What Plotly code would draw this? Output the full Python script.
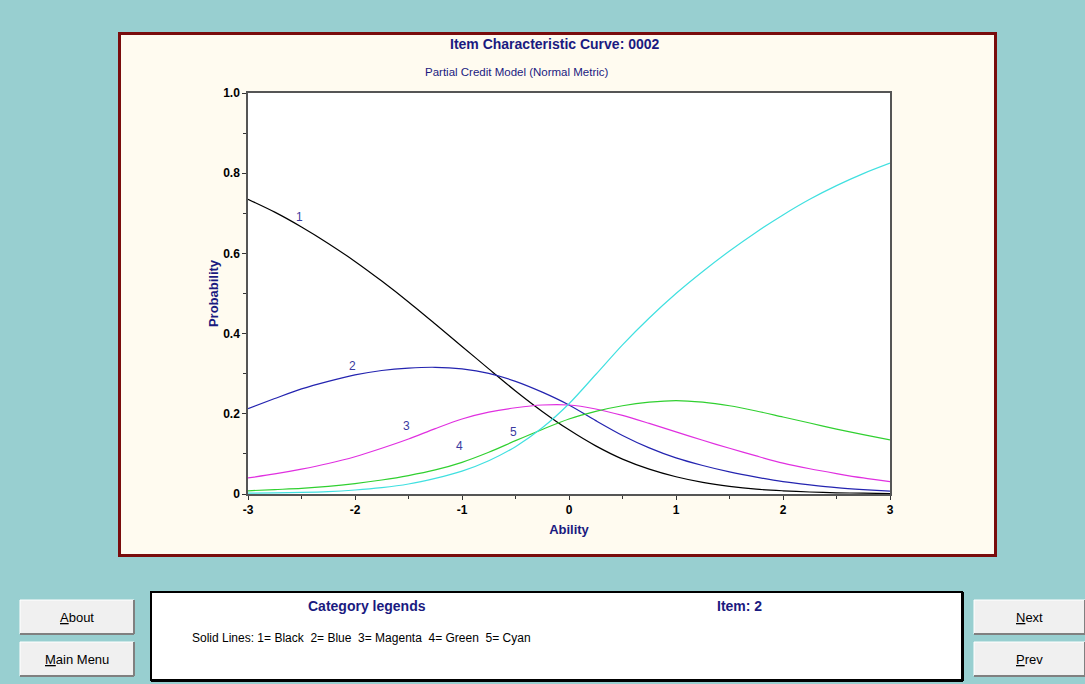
import plotly.graph_objects as go

# ---- data ----
ability = [-3, -2.75, -2.5, -2.25, -2, -1.75, -1.5, -1.25, -1, -0.75, -0.5, -0.25, 0,
           0.25, 0.5, 0.75, 1, 1.25, 1.5, 1.75, 2, 2.25, 2.5, 2.75, 3]
cat1 = [0.735, 0.703, 0.666, 0.625, 0.580, 0.531, 0.479, 0.424, 0.368, 0.312, 0.257, 0.206, 0.160,
        0.120, 0.087, 0.062, 0.043, 0.029, 0.019, 0.012, 0.008, 0.005, 0.003, 0.002, 0.001]
cat2 = [0.213, 0.238, 0.262, 0.281, 0.297, 0.308, 0.314, 0.316, 0.312, 0.301, 0.281, 0.254, 0.222,
        0.183, 0.146, 0.115, 0.090, 0.071, 0.055, 0.042, 0.031, 0.023, 0.016, 0.011, 0.007]
cat3 = [0.040, 0.050, 0.062, 0.076, 0.093, 0.114, 0.137, 0.163, 0.187, 0.204, 0.215, 0.222, 0.222,
        0.212, 0.196, 0.176, 0.155, 0.134, 0.114, 0.095, 0.077, 0.063, 0.051, 0.040, 0.031]
cat4 = [0.008, 0.011, 0.014, 0.019, 0.026, 0.035, 0.046, 0.060, 0.079, 0.104, 0.133, 0.161, 0.187,
        0.206, 0.220, 0.229, 0.233, 0.229, 0.220, 0.207, 0.192, 0.177, 0.162, 0.148, 0.135]
cat5 = [0.002, 0.003, 0.004, 0.006, 0.010, 0.016, 0.025, 0.039, 0.057, 0.083, 0.118, 0.165, 0.225,
        0.298, 0.372, 0.439, 0.500, 0.555, 0.606, 0.653, 0.696, 0.735, 0.769, 0.799, 0.825]
series = [cat1, cat2, cat3, cat4, cat5]
series_colors = ["#000000", "#2424b0", "#e030e0", "#30d030", "#40e0e0"]
curve_labels = ["1", "2", "3", "4", "5"]
label_x = [-2.52, -2.02, -1.52, -1.02, -0.52]
label_y = [0.69, 0.32, 0.17, 0.12, 0.155]
x_ticks = [-3, -2, -1, 0, 1, 2, 3]
y_ticks = [0, 0.2, 0.4, 0.6, 0.8, 1.0]
y_tick_text = ["0", "0.2", "0.4", "0.6", "0.8", "1.0"]

W, H = 1085, 684
L, R, T, B = 248, 890, 93, 494
NAVY = "#1a1a80"
FONT = "Liberation Sans Narrow, Arial Narrow, Liberation Sans, Arial"

def px(x):
    return (x - L) / (R - L)

def py(y):
    return (B - y) / (B - T)

fig = go.Figure()
for vals, col in zip(series, series_colors):
    fig.add_trace(go.Scatter(x=ability, y=vals, mode="lines",
                             line=dict(color=col, width=1.2, shape="spline", smoothing=0.8),
                             showlegend=False, hoverinfo="skip"))

shapes = []
# chart panel
shapes.append(dict(type="rect", xref="paper", yref="paper", x0=px(119.5), x1=px(995.5), y0=py(555.5), y1=py(33.5),
                   fillcolor="#fffbf0", line=dict(color="#7a0c0c", width=3), layer="below"))
# white plot area
shapes.append(dict(type="rect", xref="paper", yref="paper", x0=0, x1=1, y0=0, y1=1,
                   fillcolor="#ffffff", line=dict(width=0), layer="below"))
# legend box
shapes.append(dict(type="rect", xref="paper", yref="paper", x0=px(151), x1=px(962), y0=py(680), y1=py(592),
                   fillcolor="#ffffff", line=dict(color="#000000", width=2), layer="below"))
shapes.append(dict(type="line", xref="paper", yref="paper", x0=px(151), x1=px(963), y0=py(681), y1=py(681),
                   line=dict(color="#000000", width=2)))
shapes.append(dict(type="line", xref="paper", yref="paper", x0=px(963), x1=px(963), y0=py(592), y1=py(681),
                   line=dict(color="#000000", width=2)))

buttons = [("<u>A</u>bout", 20, 134, 600, 634), ("<u>M</u>ain Menu", 20, 134, 642, 676),
           ("<u>N</u>ext", 974, 1085, 600, 634), ("<u>P</u>rev", 974, 1085, 642, 676)]
annotations = []
for text, x0, x1, y0, y1 in buttons:
    shapes.append(dict(type="rect", xref="paper", yref="paper", x0=px(x0), x1=px(x1), y0=py(y1), y1=py(y0),
                       fillcolor="#f0f0f0", line=dict(color="#ffffff", width=1)))
    shapes.append(dict(type="line", xref="paper", yref="paper", x0=px(x0), x1=px(x1), y0=py(y1), y1=py(y1),
                       line=dict(color="#808080", width=2)))
    shapes.append(dict(type="line", xref="paper", yref="paper", x0=px(x1), x1=px(x1), y0=py(y0), y1=py(y1),
                       line=dict(color="#808080", width=2)))
    annotations.append(dict(text=text, xref="paper", yref="paper", x=px((x0 + x1) / 2), y=py((y0 + y1) / 2),
                            showarrow=False, font=dict(family=FONT, size=13, color="#000000"),
                            xanchor="center", yanchor="middle"))

annotations += [
    dict(text="<b>Item Characteristic Curve: 0002</b>", xref="paper", yref="paper", x=px(555), y=py(44),
         showarrow=False, font=dict(family=FONT, size=14, color=NAVY), xanchor="center", yanchor="middle"),
    dict(text="Partial Credit Model (Normal Metric)", xref="paper", yref="paper", x=px(517), y=py(72),
         showarrow=False, font=dict(family=FONT, size=11.5, color=NAVY), xanchor="center", yanchor="middle"),
    dict(text="<b>Category legends</b>", xref="paper", yref="paper", x=px(367), y=py(606),
         showarrow=False, font=dict(family=FONT, size=14, color=NAVY), xanchor="center", yanchor="middle"),
    dict(text="<b>Item: 2</b>", xref="paper", yref="paper", x=px(739), y=py(606),
         showarrow=False, font=dict(family=FONT, size=14, color=NAVY), xanchor="center", yanchor="middle"),
    dict(text="Solid Lines: 1= Black  2= Blue  3= Magenta  4= Green  5= Cyan", xref="paper", yref="paper",
         x=px(190), y=py(638), showarrow=False, font=dict(family=FONT, size=12, color="#000000"),
         xanchor="left", yanchor="middle"),
]
for t, lx, ly in zip(curve_labels, label_x, label_y):
    annotations.append(dict(text=t, x=lx, y=ly, xref="x", yref="y", showarrow=False,
                            font=dict(family=FONT, size=12, color="#3a3aa0"), xanchor="center", yanchor="middle"))

fig.update_layout(
    width=W, height=H,
    margin=dict(l=L, r=W - R, t=T, b=H - B, pad=0),
    paper_bgcolor="#98cfd0", plot_bgcolor="#ffffff",
    shapes=shapes, annotations=annotations,
    showlegend=False,
    font=dict(family=FONT, color="#000000"),
)
fig.update_xaxes(range=[-3, 3], tickvals=x_ticks, ticktext=[str(v) for v in x_ticks],
                 ticks="outside", ticklen=4, tickcolor="#333", showgrid=False, zeroline=False,
                 showline=True, linecolor="#555555", linewidth=1.5, mirror=True,
                 tickfont=dict(family=FONT, size=12, color="#000000", weight="bold"),
                 minor=dict(tickvals=[-2.5, -1.5, -0.5, 0.5, 1.5, 2.5], ticks="outside", ticklen=3, tickcolor="#333"),
                 title=dict(text="<b>Ability</b>", font=dict(family=FONT, size=13, color=NAVY), standoff=9))
fig.update_yaxes(range=[0, 1.0], tickvals=y_ticks, ticktext=y_tick_text,
                 ticks="outside", ticklen=4, tickcolor="#333", showgrid=False, zeroline=False,
                 showline=True, linecolor="#555555", linewidth=1.5, mirror=True,
                 tickfont=dict(family=FONT, size=12, color="#000000", weight="bold"),
                 minor=dict(tickvals=[0.1, 0.3, 0.5, 0.7, 0.9], ticks="outside", ticklen=3, tickcolor="#333"),
                 title=dict(text="<b>Probability</b>", font=dict(family=FONT, size=13, color=NAVY), standoff=2))

fig.write_html("out.html", config={"displayModeBar": False},
               post_script="document.body.style.margin='0px';document.body.style.background='#98cfd0';"
                           "document.documentElement.style.overflow='hidden';")
